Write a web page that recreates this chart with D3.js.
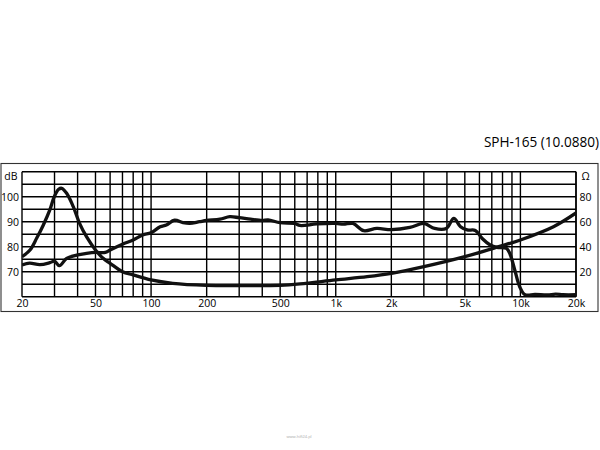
<!DOCTYPE html>
<html><head><meta charset="utf-8">
<script src="https://cdn.jsdelivr.net/npm/d3@7"></script>
<style>body{margin:0;background:#fff;}svg{display:block;}</style>
</head><body>
<script>
const title = "SPH-165 (10.0880)";
const freqTicks = [20, 50, 100, 200, 500, 1000, 2000, 5000, 10000, 20000];
const freqTickLabels = ["20", "50", "100", "200", "500", "1k", "2k", "5k", "10k", "20k"];
const dbTicks = [70, 80, 90, 100];
const ohmTicks = [20, 40, 60, 80];

const splFreq = [20, 22, 25, 28.3, 30, 31.9, 34.9, 40, 44.7, 50, 56.5, 60, 70, 80, 90, 100, 112, 121, 134, 149, 162, 183, 200, 236, 267, 300, 346, 400, 430, 500, 600, 640, 788, 1000, 1100, 1240, 1416, 1670, 2000, 2520, 3000, 3430, 3970, 4360, 4740, 5150, 5700, 6210, 6860, 7460, 8400, 8760, 9320, 9910, 10600, 12000, 14000, 15500, 17000, 20000];
const splDb = [72.7, 73.4, 72.8, 73.6, 74.2, 72.4, 75.3, 76.7, 77.3, 77.7, 77.7, 78.7, 81, 82.7, 84.7, 85.6, 88, 88.7, 90.6, 89.6, 89.3, 90, 90.5, 91, 92, 91.6, 91, 90.5, 90.7, 89.6, 89.3, 88.5, 89.1, 89.3, 89, 89.3, 86.4, 87.3, 86.8, 87.7, 89.3, 87.3, 87.3, 91.3, 88, 86.7, 86.5, 83.3, 80.7, 79.7, 79.3, 77.3, 70.7, 64, 60.8, 60.9, 60.7, 61.0, 60.8, 60.8];

const impFreq = [20, 22.1, 24, 26.1, 28.3, 29.9, 31.6, 32.8, 34.9, 37.9, 41, 44.7, 50, 55, 60, 70, 80, 100, 131, 200, 300, 500, 640, 1000, 1480, 2000, 3000, 5000, 7640, 10000, 15100, 20000];
const impOhm = [32, 37.4, 46.7, 57.4, 69.4, 80, 85.9, 86.7, 82.7, 72, 58.7, 48, 37.4, 30.7, 26.7, 20, 17.4, 13.4, 10.7, 9.1, 8.9, 9.1, 10.2, 13.4, 16, 18.7, 24, 32, 40, 45.4, 56, 67];

const W = 600, H = 450;
const svg = d3.select("body").append("svg").attr("width", W).attr("height", H);
const font = "'Open Sans', 'Noto Sans', sans-serif";

const x = d3.scaleLog().domain([20, 20000]).range([22, 576]);
const y = d3.scaleLinear().domain([60, 110]).range([296.7, 171.7]);
const yR = d3.scaleLinear().domain([0, 100]).range([296.7, 171.7]);

// outer frame
svg.append("rect").attr("x", 1).attr("y", 163.5).attr("width", 597).attr("height", 148)
  .attr("fill", "none").attr("stroke", "#333").attr("stroke-width", 1.1);

// vertical grid
const vGrid = [];
[10, 100, 1000, 10000].forEach(dec => { for (let m = 1; m <= 9; m++) { const f = dec * m; if (f >= 20 && f <= 20000) vGrid.push(f); } });
vGrid.push(20000);
svg.append("g").selectAll("line").data(vGrid).join("line")
  .attr("x1", d => x(d)).attr("x2", d => x(d)).attr("y1", y(110)).attr("y2", y(60))
  .attr("stroke", "#000").attr("stroke-width", 1.4);

// horizontal grid
const hGrid = d3.range(60, 111, 5);
svg.append("g").selectAll("line").data(hGrid).join("line")
  .attr("x1", x(20)).attr("x2", x(20000)).attr("y1", d => y(d)).attr("y2", d => y(d))
  .attr("stroke", "#000").attr("stroke-width", 1.4);

// axes labels
const bottomAxis = d3.axisBottom(x).tickValues(freqTicks).tickFormat((d, i) => freqTickLabels[i]).tickSize(0).tickPadding(0);
const gb = svg.append("g").attr("transform", "translate(0,300)").call(bottomAxis);
gb.select(".domain").remove();
gb.selectAll("text").attr("font-family", font).attr("font-size", 10.5).attr("fill", "#000").attr("dy", "0.71em");

const leftAxis = d3.axisLeft(y).tickValues(dbTicks).tickSize(0).tickPadding(0);
const gl = svg.append("g").attr("transform", "translate(19,0)").call(leftAxis);
gl.select(".domain").remove();
gl.selectAll("text").attr("font-family", font).attr("font-size", 10.5).attr("fill", "#000");

const rightAxis = d3.axisRight(yR).tickValues(ohmTicks).tickSize(0).tickPadding(0);
const gr = svg.append("g").attr("transform", "translate(579.5,0)").call(rightAxis);
gr.select(".domain").remove();
gr.selectAll("text").attr("font-family", font).attr("font-size", 10.5).attr("fill", "#000");

svg.append("text").attr("x", 17.5).attr("y", 176).attr("dy", "0.35em").attr("text-anchor", "end")
  .attr("font-family", font).attr("font-size", 10.5).attr("fill", "#000").text("dB");
svg.append("text").attr("x", 585.5).attr("y", 176).attr("dy", "0.35em").attr("text-anchor", "middle")
  .attr("font-family", font).attr("font-size", 10.5).attr("fill", "#000").text("Ω");

svg.append("text").attr("x", 599).attr("y", 147).attr("text-anchor", "end")
  .attr("font-family", font).attr("font-size", 13.6).attr("fill", "#000").text(title);

// curves
const clipId = "plotclip";
svg.append("clipPath").attr("id", clipId).append("rect").attr("x", 22).attr("y", 171).attr("width", 554).attr("height", 126);

const splLine = d3.line().x((d, i) => x(splFreq[i])).y(d => y(d)).curve(d3.curveCatmullRom.alpha(0.5));
svg.append("path").datum(splDb).attr("d", splLine).attr("fill", "none").attr("stroke", "#111")
  .attr("stroke-width", 3.3).attr("stroke-linejoin", "round").attr("clip-path", `url(#${clipId})`);

const impLine = d3.line().x((d, i) => x(impFreq[i])).y(d => yR(d)).curve(d3.curveCatmullRom.alpha(0.5));
svg.append("path").datum(impOhm).attr("d", impLine).attr("fill", "none").attr("stroke", "#111")
  .attr("stroke-width", 3.3).attr("stroke-linejoin", "round").attr("clip-path", `url(#${clipId})`);

// watermark
svg.append("text").attr("x", 299).attr("y", 438).attr("text-anchor", "middle")
  .attr("font-family", font).attr("font-size", 4).attr("fill", "#aaa").text("www.hifi24.pl");
</script>
</body></html>
